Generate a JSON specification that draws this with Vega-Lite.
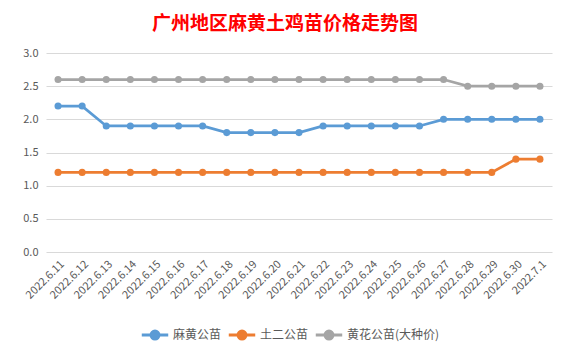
{
  "$schema": "https://vega.github.io/schema/vega-lite/v6.json",
  "width": 506,
  "height": 199,
  "autosize": {"type": "none"},
  "padding": {"left": 46, "top": 53, "right": 18, "bottom": 99},
  "background": "white",
  "title": {
    "text": "广州地区麻黄土鸡苗价格走势图",
    "font": "Noto Sans CJK SC",
    "fontSize": 19,
    "fontWeight": "bold",
    "color": "#FF0000",
    "anchor": "middle",
    "dx": -14,
    "offset": 13
  },
  "data": {
    "values": [
      {"date": "2022.6.11", "series": "麻黄公苗", "price": 2.2},
      {"date": "2022.6.12", "series": "麻黄公苗", "price": 2.2},
      {"date": "2022.6.13", "series": "麻黄公苗", "price": 1.9},
      {"date": "2022.6.14", "series": "麻黄公苗", "price": 1.9},
      {"date": "2022.6.15", "series": "麻黄公苗", "price": 1.9},
      {"date": "2022.6.16", "series": "麻黄公苗", "price": 1.9},
      {"date": "2022.6.17", "series": "麻黄公苗", "price": 1.9},
      {"date": "2022.6.18", "series": "麻黄公苗", "price": 1.8},
      {"date": "2022.6.19", "series": "麻黄公苗", "price": 1.8},
      {"date": "2022.6.20", "series": "麻黄公苗", "price": 1.8},
      {"date": "2022.6.21", "series": "麻黄公苗", "price": 1.8},
      {"date": "2022.6.22", "series": "麻黄公苗", "price": 1.9},
      {"date": "2022.6.23", "series": "麻黄公苗", "price": 1.9},
      {"date": "2022.6.24", "series": "麻黄公苗", "price": 1.9},
      {"date": "2022.6.25", "series": "麻黄公苗", "price": 1.9},
      {"date": "2022.6.26", "series": "麻黄公苗", "price": 1.9},
      {"date": "2022.6.27", "series": "麻黄公苗", "price": 2.0},
      {"date": "2022.6.28", "series": "麻黄公苗", "price": 2.0},
      {"date": "2022.6.29", "series": "麻黄公苗", "price": 2.0},
      {"date": "2022.6.30", "series": "麻黄公苗", "price": 2.0},
      {"date": "2022.7.1", "series": "麻黄公苗", "price": 2.0},
      {"date": "2022.6.11", "series": "土二公苗", "price": 1.2},
      {"date": "2022.6.12", "series": "土二公苗", "price": 1.2},
      {"date": "2022.6.13", "series": "土二公苗", "price": 1.2},
      {"date": "2022.6.14", "series": "土二公苗", "price": 1.2},
      {"date": "2022.6.15", "series": "土二公苗", "price": 1.2},
      {"date": "2022.6.16", "series": "土二公苗", "price": 1.2},
      {"date": "2022.6.17", "series": "土二公苗", "price": 1.2},
      {"date": "2022.6.18", "series": "土二公苗", "price": 1.2},
      {"date": "2022.6.19", "series": "土二公苗", "price": 1.2},
      {"date": "2022.6.20", "series": "土二公苗", "price": 1.2},
      {"date": "2022.6.21", "series": "土二公苗", "price": 1.2},
      {"date": "2022.6.22", "series": "土二公苗", "price": 1.2},
      {"date": "2022.6.23", "series": "土二公苗", "price": 1.2},
      {"date": "2022.6.24", "series": "土二公苗", "price": 1.2},
      {"date": "2022.6.25", "series": "土二公苗", "price": 1.2},
      {"date": "2022.6.26", "series": "土二公苗", "price": 1.2},
      {"date": "2022.6.27", "series": "土二公苗", "price": 1.2},
      {"date": "2022.6.28", "series": "土二公苗", "price": 1.2},
      {"date": "2022.6.29", "series": "土二公苗", "price": 1.2},
      {"date": "2022.6.30", "series": "土二公苗", "price": 1.4},
      {"date": "2022.7.1", "series": "土二公苗", "price": 1.4},
      {"date": "2022.6.11", "series": "黄花公苗(大种价)", "price": 2.6},
      {"date": "2022.6.12", "series": "黄花公苗(大种价)", "price": 2.6},
      {"date": "2022.6.13", "series": "黄花公苗(大种价)", "price": 2.6},
      {"date": "2022.6.14", "series": "黄花公苗(大种价)", "price": 2.6},
      {"date": "2022.6.15", "series": "黄花公苗(大种价)", "price": 2.6},
      {"date": "2022.6.16", "series": "黄花公苗(大种价)", "price": 2.6},
      {"date": "2022.6.17", "series": "黄花公苗(大种价)", "price": 2.6},
      {"date": "2022.6.18", "series": "黄花公苗(大种价)", "price": 2.6},
      {"date": "2022.6.19", "series": "黄花公苗(大种价)", "price": 2.6},
      {"date": "2022.6.20", "series": "黄花公苗(大种价)", "price": 2.6},
      {"date": "2022.6.21", "series": "黄花公苗(大种价)", "price": 2.6},
      {"date": "2022.6.22", "series": "黄花公苗(大种价)", "price": 2.6},
      {"date": "2022.6.23", "series": "黄花公苗(大种价)", "price": 2.6},
      {"date": "2022.6.24", "series": "黄花公苗(大种价)", "price": 2.6},
      {"date": "2022.6.25", "series": "黄花公苗(大种价)", "price": 2.6},
      {"date": "2022.6.26", "series": "黄花公苗(大种价)", "price": 2.6},
      {"date": "2022.6.27", "series": "黄花公苗(大种价)", "price": 2.6},
      {"date": "2022.6.28", "series": "黄花公苗(大种价)", "price": 2.5},
      {"date": "2022.6.29", "series": "黄花公苗(大种价)", "price": 2.5},
      {"date": "2022.6.30", "series": "黄花公苗(大种价)", "price": 2.5},
      {"date": "2022.7.1", "series": "黄花公苗(大种价)", "price": 2.5}
    ]
  },
  "encoding": {
    "x": {
      "field": "date",
      "type": "ordinal",
      "sort": null,
      "title": null,
      "axis": {
        "labelAngle": -45,
        "labelFont": "Noto Sans CJK SC",
        "labelFontSize": 11,
        "labelColor": "#595959",
        "ticks": false,
        "domain": false,
        "grid": false,
        "labelPadding": 6
      }
    },
    "y": {
      "field": "price",
      "type": "quantitative",
      "title": null,
      "scale": {"domain": [0, 3]},
      "axis": {
        "values": [0, 0.5, 1, 1.5, 2, 2.5, 3],
        "format": ".1f",
        "labelFont": "Noto Sans CJK SC",
        "labelFontSize": 11,
        "labelColor": "#595959",
        "ticks": false,
        "domain": false,
        "gridColor": "#D9D9D9",
        "labelPadding": 8
      }
    },
    "color": {
      "field": "series",
      "type": "nominal",
      "sort": null,
      "scale": {
        "domain": ["麻黄公苗", "土二公苗", "黄花公苗(大种价)"],
        "range": ["#5B9BD5", "#ED7D31", "#A5A5A5"]
      },
      "legend": {
        "title": null,
        "orient": "none",
        "direction": "horizontal",
        "legendX": 94,
        "legendY": 267,
        "labelFont": "Noto Sans CJK SC",
        "labelFontSize": 12,
        "labelColor": "#595959",
        "symbolType": "M-1,0L1,0M-0.3,0A0.3,0.3,0,1,0,0.3,0A0.3,0.3,0,1,0,-0.3,0",
        "symbolSize": 700,
        "symbolStrokeWidth": 3,
        "columnPadding": 0,
        "labelOffset": 3
      }
    }
  },
  "layer": [
    {"mark": {"type": "line", "strokeWidth": 2.75}},
    {"mark": {"type": "point", "filled": true, "size": 50, "opacity": 1}}
  ],
  "config": {"view": {"stroke": null}}
}
